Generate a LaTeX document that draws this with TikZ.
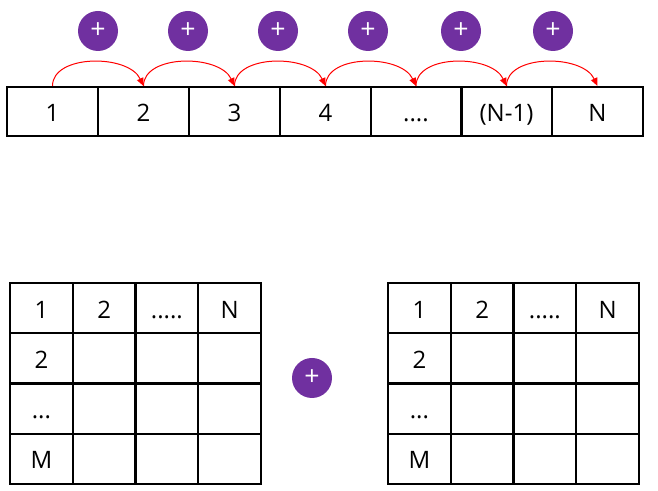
\documentclass[tikz,border=0pt]{standalone}
\usepackage{fontspec}
\setmainfont{Open Sans}
\usetikzlibrary{arrows.meta}
\definecolor{plum}{HTML}{7030A0}

\begin{document}
\begin{tikzpicture}[x=0.75pt,y=-0.75pt,
  box/.style={draw,line width=1.5pt,inner sep=0pt,
    font=\fontsize{18}{20}\selectfont,text height=15pt,text depth=0pt},
  rowcell/.style={box,minimum width=68.25pt,minimum height=36.75pt},
  gridcell/.style={box,minimum width=47pt,minimum height=37.7pt},
  plus/.style={circle,fill=plum,text=white,minimum size=30pt,inner sep=0pt,
    font=\fontsize{20}{20}\selectfont},
  carry/.style={red,line width=0.75pt,-{Triangle[length=6pt,width=5pt]}}]
  \useasboundingbox (0,0) rectangle (658,491);
  % the row
  \node[rowcell] (c1) at (52.5,111.5) {1};
  \node[rowcell] (c2) at (143.5,111.5) {2};
  \node[rowcell] (c3) at (234.5,111.5) {3};
  \node[rowcell] (c4) at (325.5,111.5) {4};
  \node[rowcell] (c5) at (416,111.5) {....};
  \node[rowcell] (c6) at (506.5,111.5) {(N-1)};
  \node[rowcell] (c7) at (597.5,111.5) {N};
  \node[plus] (p1) at (98,31) {+};
  \node[plus] (p2) at (188,31) {+};
  \node[plus] (p3) at (278,31) {+};
  \node[plus] (p4) at (368,31) {+};
  \node[plus] (p5) at (461,31) {+};
  \node[plus] (p6) at (553,31) {+};
  \foreach \a/\b in {1/2,2/3,3/4,4/5,5/6,6/7}
    \draw[carry] (c\a.north) .. controls +(0,-32) and +(-15,-32) .. (c\b.north);
  % the two grids
  \foreach \g/\xo in {L/10,R/388}
    \foreach \r in {1,...,4}
      \foreach \c in {1,...,4}
        \node[gridcell] (\g\r\c) at ({\xo+62.75*(\c-0.5)},{283+50.25*(\r-0.5)}) {};
  \foreach \g in {L,R} {
    \node[box,draw=none] at (\g11) {1};
    \node[box,draw=none] at (\g12) {2};
    \node[box,draw=none] at (\g13) {.....};
    \node[box,draw=none] at (\g14) {N};
    \node[box,draw=none] at (\g21) {2};
    \node[box,draw=none] at (\g31) {...};
    \node[box,draw=none] at (\g41) {M};
  }
  \node[plus] (pm) at (312,378) {+};
\end{tikzpicture}
\end{document}
